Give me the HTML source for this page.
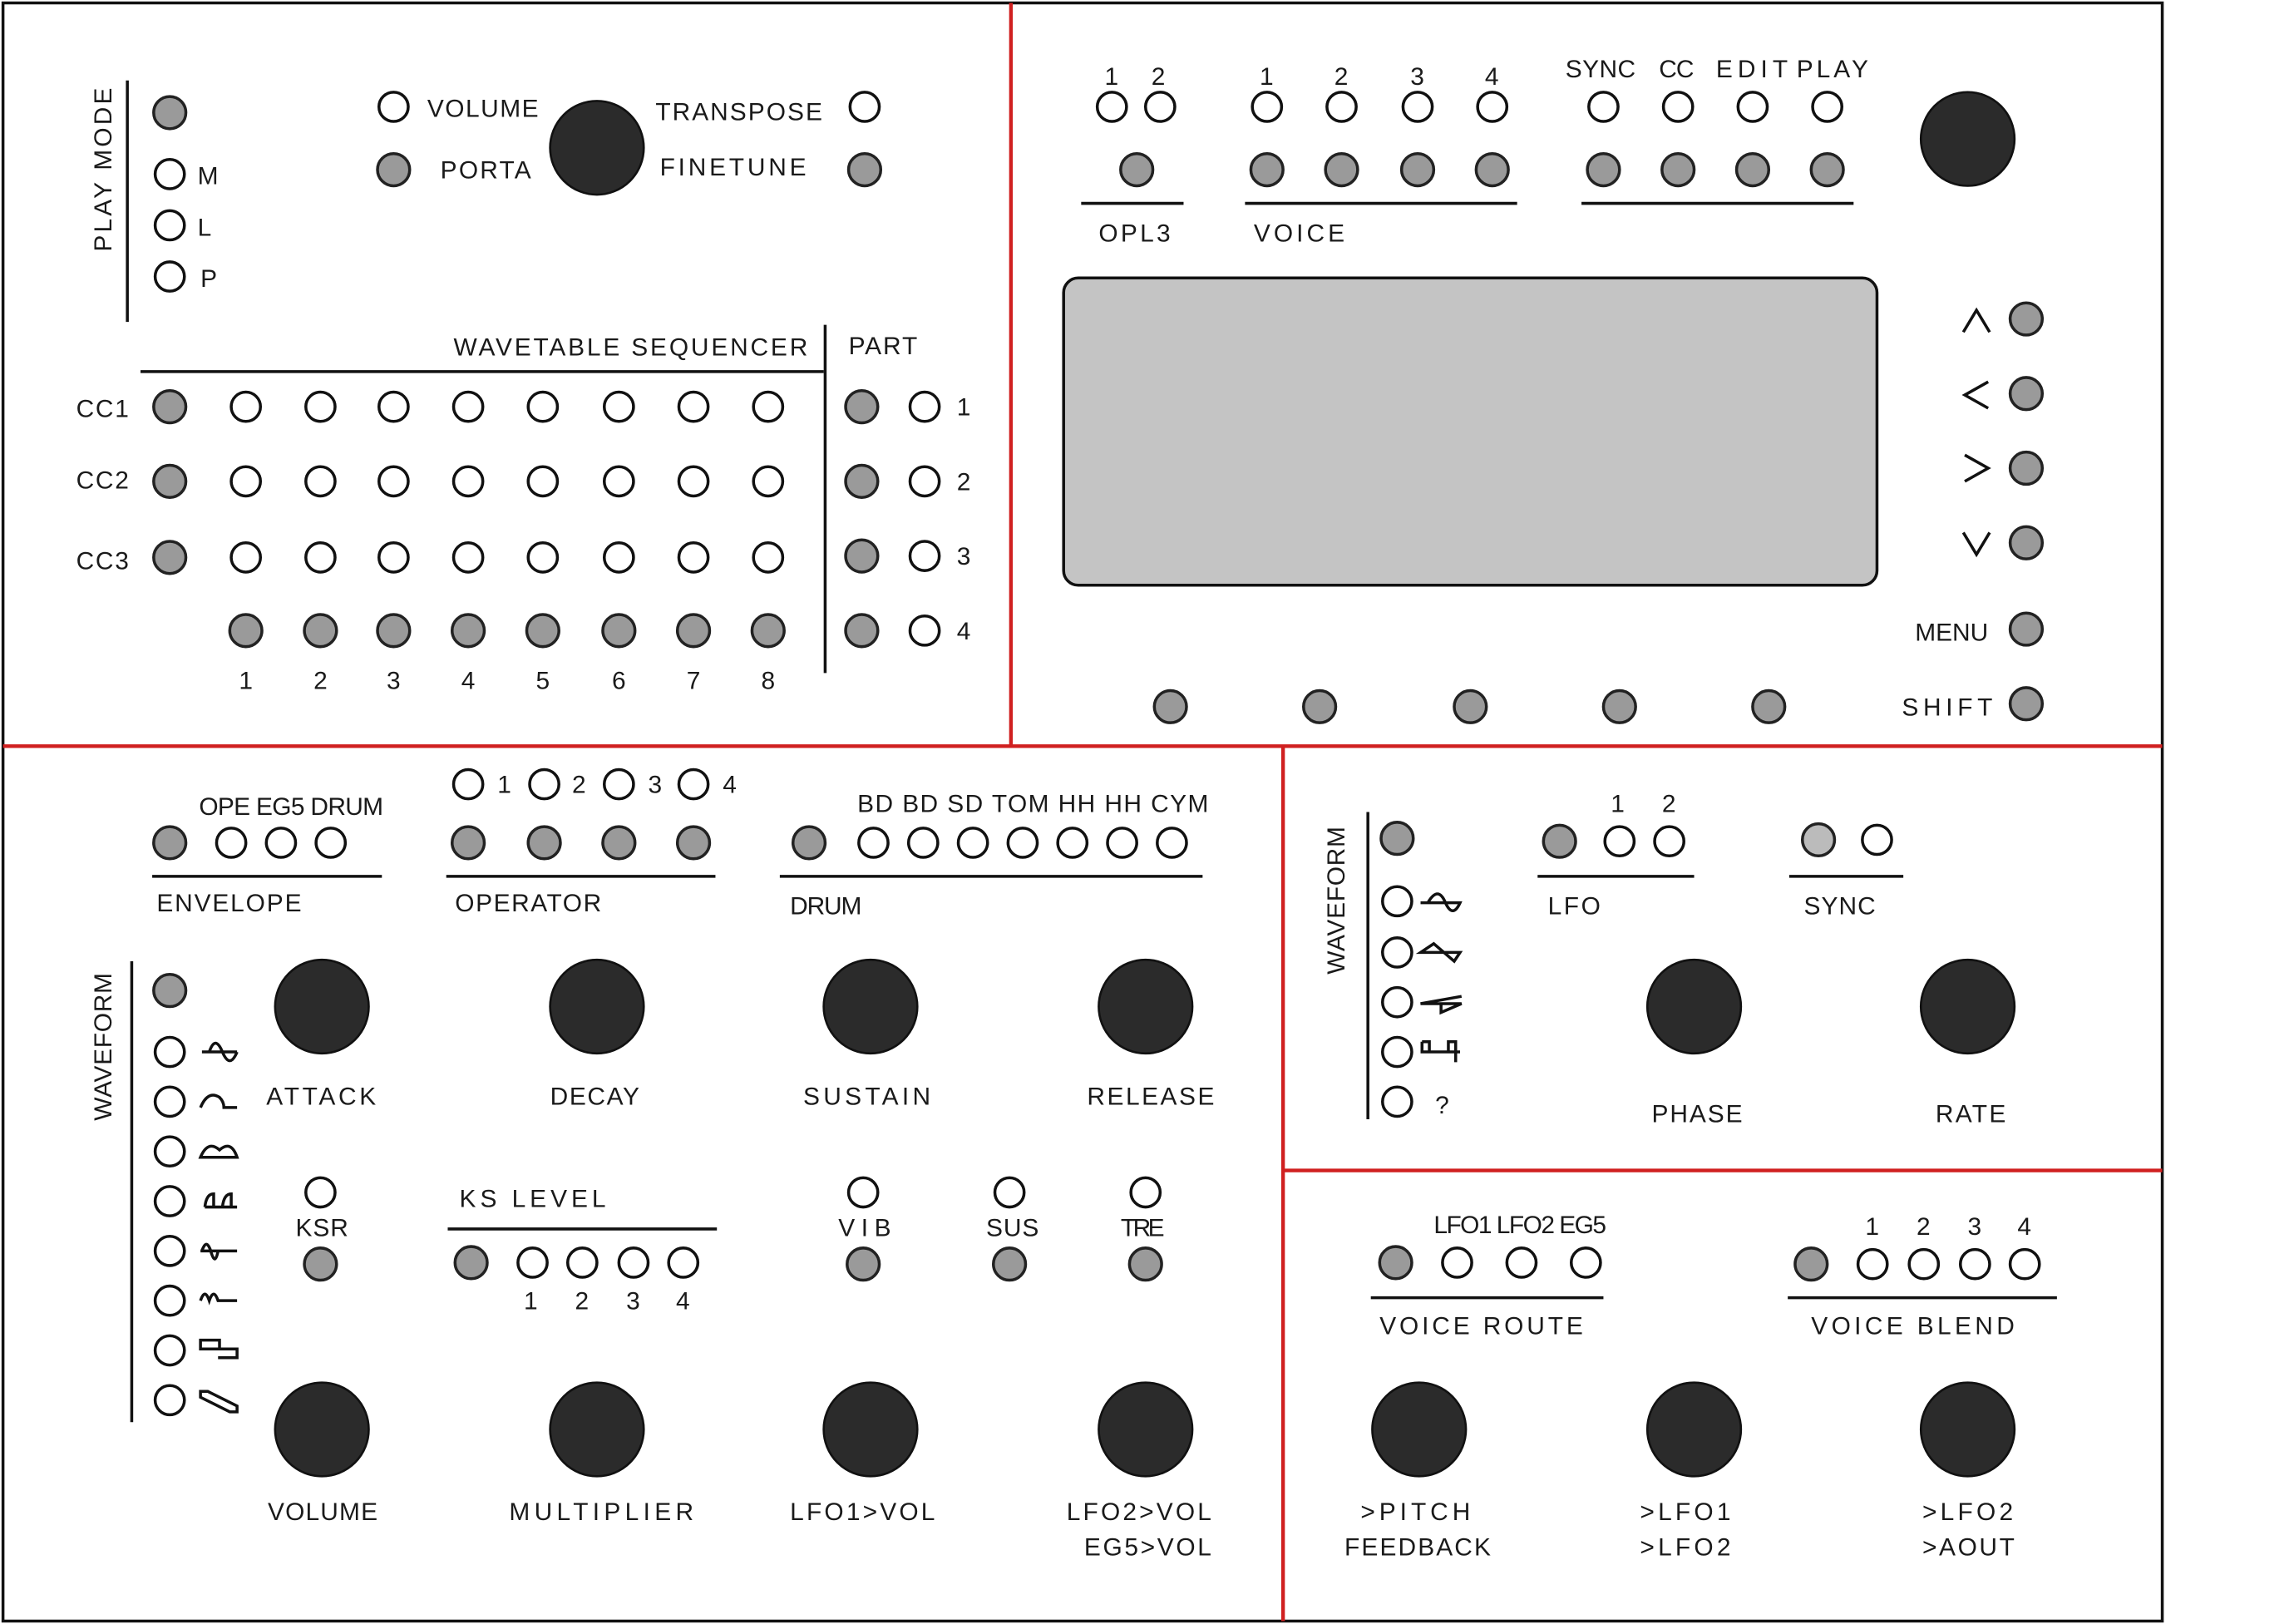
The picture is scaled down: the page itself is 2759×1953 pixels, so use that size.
<!DOCTYPE html>
<html><head><meta charset="utf-8"><style>
html,body{margin:0;padding:0;background:#fff}
svg{display:block}
text{font-family:"Liberation Sans",sans-serif;font-size:17px;fill:#1a1a1a}
.o{fill:#fff;stroke:#111;stroke-width:2}
.f{fill:#9a9a9a;stroke:#222;stroke-width:2}
.k{fill:#2b2b2b;stroke:#111;stroke-width:1.5}
.l{stroke:#111;stroke-width:2;fill:none}
.r{stroke:#d02020;stroke-width:2.5;fill:none}
.i{stroke:#111;stroke-width:2;fill:none}
</style></head><body>
<svg width="2759" height="1953" viewBox="0 0 1568 1110" xmlns="http://www.w3.org/2000/svg">
<rect x="0" y="0" width="1568" height="1110" fill="#fff"/>
<rect x="2" y="2" width="1476" height="1106" class="l"/>
<line x1="691" y1="2" x2="691" y2="510" class="r"/>
<line x1="2" y1="510" x2="1478" y2="510" class="r"/>
<line x1="877" y1="510" x2="877" y2="1108" class="r"/>
<line x1="877" y1="800" x2="1478" y2="800" class="r"/>

<!-- PLAY MODE -->
<text transform="translate(76,172) rotate(-90)" textLength="112" lengthAdjust="spacing">PLAY MODE</text>
<line x1="87" y1="55" x2="87" y2="220" class="l"/>
<circle cx="116" cy="77" r="11" class="f"/>
<circle cx="116" cy="119" r="10" class="o"/><text x="135" y="126">M</text>
<circle cx="116" cy="154" r="10" class="o"/><text x="135" y="161">L</text>
<circle cx="116" cy="189" r="10" class="o"/><text x="137" y="196">P</text>

<circle cx="269" cy="73" r="10" class="o"/><text x="292" y="80" textLength="76" lengthAdjust="spacing">VOLUME</text>
<circle cx="269" cy="116" r="11" class="f"/><text x="301" y="122" textLength="62" lengthAdjust="spacing">PORTA</text>
<circle cx="408" cy="101" r="32" class="k"/>
<text x="448" y="82" textLength="114" lengthAdjust="spacing">TRANSPOSE</text><circle cx="591" cy="73" r="10" class="o"/>
<text x="451" y="120" textLength="100" lengthAdjust="spacing">FINETUNE</text><circle cx="591" cy="116" r="11" class="f"/>

<text x="310" y="243" textLength="242" lengthAdjust="spacing">WAVETABLE SEQUENCER</text>
<line x1="96" y1="254" x2="563" y2="254" class="l"/>
<line x1="564" y1="222" x2="564" y2="460" class="l"/>
<text x="580" y="242" textLength="47" lengthAdjust="spacing">PART</text>

<text x="52" y="285" textLength="36" lengthAdjust="spacing">CC1</text><text x="52" y="334" textLength="36" lengthAdjust="spacing">CC2</text><text x="52" y="389" textLength="36" lengthAdjust="spacing">CC3</text>
<circle cx="116" cy="278" r="11" class="f"/><circle cx="116" cy="329" r="11" class="f"/><circle cx="116" cy="381" r="11" class="f"/>
<g class="o">
<circle cx="168" cy="278" r="10"/><circle cx="219" cy="278" r="10"/><circle cx="269" cy="278" r="10"/><circle cx="320" cy="278" r="10"/><circle cx="371" cy="278" r="10"/><circle cx="423" cy="278" r="10"/><circle cx="474" cy="278" r="10"/><circle cx="525" cy="278" r="10"/>
<circle cx="168" cy="329" r="10"/><circle cx="219" cy="329" r="10"/><circle cx="269" cy="329" r="10"/><circle cx="320" cy="329" r="10"/><circle cx="371" cy="329" r="10"/><circle cx="423" cy="329" r="10"/><circle cx="474" cy="329" r="10"/><circle cx="525" cy="329" r="10"/>
<circle cx="168" cy="381" r="10"/><circle cx="219" cy="381" r="10"/><circle cx="269" cy="381" r="10"/><circle cx="320" cy="381" r="10"/><circle cx="371" cy="381" r="10"/><circle cx="423" cy="381" r="10"/><circle cx="474" cy="381" r="10"/><circle cx="525" cy="381" r="10"/>
<circle cx="632" cy="278" r="10"/><circle cx="632" cy="329" r="10"/><circle cx="632" cy="380" r="10"/><circle cx="632" cy="431" r="10"/>
</g>
<g class="f">
<circle cx="168" cy="431" r="11"/><circle cx="219" cy="431" r="11"/><circle cx="269" cy="431" r="11"/><circle cx="320" cy="431" r="11"/><circle cx="371" cy="431" r="11"/><circle cx="423" cy="431" r="11"/><circle cx="474" cy="431" r="11"/><circle cx="525" cy="431" r="11"/>
<circle cx="589" cy="278" r="11"/><circle cx="589" cy="329" r="11"/><circle cx="589" cy="380" r="11"/><circle cx="589" cy="431" r="11"/>
</g>
<text x="654" y="284">1</text><text x="654" y="335">2</text><text x="654" y="386">3</text><text x="654" y="437">4</text>
<g text-anchor="middle">
<text x="168" y="471">1</text><text x="219" y="471">2</text><text x="269" y="471">3</text><text x="320" y="471">4</text><text x="371" y="471">5</text><text x="423" y="471">6</text><text x="474" y="471">7</text><text x="525" y="471">8</text>
</g>

<!-- TOP RIGHT -->
<text x="755" y="58">1</text><text x="787" y="58">2</text>
<circle cx="760" cy="73" r="10" class="o"/><circle cx="793" cy="73" r="10" class="o"/>
<circle cx="777" cy="116" r="11" class="f"/>
<line x1="739" y1="139" x2="809" y2="139" class="l"/>
<text x="751" y="165" textLength="49" lengthAdjust="spacing">OPL3</text>
<text x="861" y="58">1</text><text x="912" y="58">2</text><text x="964" y="58">3</text><text x="1015" y="58">4</text>
<g class="o"><circle cx="866" cy="73" r="10"/><circle cx="917" cy="73" r="10"/><circle cx="969" cy="73" r="10"/><circle cx="1020" cy="73" r="10"/>
<circle cx="1096" cy="73" r="10"/><circle cx="1147" cy="73" r="10"/><circle cx="1198" cy="73" r="10"/><circle cx="1249" cy="73" r="10"/></g>
<g class="f"><circle cx="866" cy="116" r="11"/><circle cx="917" cy="116" r="11"/><circle cx="969" cy="116" r="11"/><circle cx="1020" cy="116" r="11"/>
<circle cx="1096" cy="116" r="11"/><circle cx="1147" cy="116" r="11"/><circle cx="1198" cy="116" r="11"/><circle cx="1249" cy="116" r="11"/></g>
<line x1="851" y1="139" x2="1037" y2="139" class="l"/>
<line x1="1081" y1="139" x2="1267" y2="139" class="l"/>
<text x="857" y="165" textLength="62" lengthAdjust="spacing">VOICE</text>
<text x="1070" y="53" textLength="48" lengthAdjust="spacing">SYNC</text><text x="1134" y="53" textLength="24" lengthAdjust="spacing">CC</text><text x="1173" y="53" textLength="49" lengthAdjust="spacing">EDIT</text><text x="1228" y="53" textLength="49" lengthAdjust="spacing">PLAY</text>
<circle cx="1345" cy="95" r="32" class="k"/>
<rect x="727" y="190" width="556" height="210" rx="10" fill="#c4c4c4" stroke="#111" stroke-width="2"/>
<path d="M1342,227 L1351,212 L1360,227 M1359,261 L1343,270 L1359,279 M1343,311 L1359,320 L1343,329 M1342,364 L1351,379 L1360,364" class="i"/>
<g class="f"><circle cx="1385" cy="218" r="11"/><circle cx="1385" cy="269" r="11"/><circle cx="1385" cy="320" r="11"/><circle cx="1385" cy="371" r="11"/><circle cx="1385" cy="430" r="11"/><circle cx="1385" cy="481" r="11"/>
<circle cx="800" cy="483" r="11"/><circle cx="902" cy="483" r="11"/><circle cx="1005" cy="483" r="11"/><circle cx="1107" cy="483" r="11"/><circle cx="1209" cy="483" r="11"/></g>
<text x="1309" y="438" textLength="50" lengthAdjust="spacing">MENU</text><text x="1300" y="489" textLength="62" lengthAdjust="spacing">SHIFT</text>

<!-- BOTTOM LEFT -->
<text x="136" y="557" textLength="126" lengthAdjust="spacing">OPE EG5 DRUM</text>
<circle cx="116" cy="576" r="11" class="f"/>
<g class="o"><circle cx="158" cy="576" r="10"/><circle cx="192" cy="576" r="10"/><circle cx="226" cy="576" r="10"/></g>
<line x1="104" y1="599" x2="261" y2="599" class="l"/>
<text x="107" y="623" textLength="99" lengthAdjust="spacing">ENVELOPE</text>
<g class="o"><circle cx="320" cy="536" r="10"/><circle cx="372" cy="536" r="10"/><circle cx="423" cy="536" r="10"/><circle cx="474" cy="536" r="10"/></g>
<text x="340" y="542">1</text><text x="391" y="542">2</text><text x="443" y="542">3</text><text x="494" y="542">4</text>
<g class="f"><circle cx="320" cy="576" r="11"/><circle cx="372" cy="576" r="11"/><circle cx="423" cy="576" r="11"/><circle cx="474" cy="576" r="11"/></g>
<line x1="305" y1="599" x2="489" y2="599" class="l"/>
<text x="311" y="623" textLength="100" lengthAdjust="spacing">OPERATOR</text>
<text x="586" y="555" textLength="240" lengthAdjust="spacing">BD BD SD TOM HH HH CYM</text>
<circle cx="553" cy="576" r="11" class="f"/>
<g class="o"><circle cx="597" cy="576" r="10"/><circle cx="631" cy="576" r="10"/><circle cx="665" cy="576" r="10"/><circle cx="699" cy="576" r="10"/><circle cx="733" cy="576" r="10"/><circle cx="767" cy="576" r="10"/><circle cx="801" cy="576" r="10"/></g>
<line x1="533" y1="599" x2="822" y2="599" class="l"/>
<text x="540" y="625" textLength="49" lengthAdjust="spacing">DRUM</text>

<text transform="translate(76,766) rotate(-90)" textLength="101" lengthAdjust="spacing">WAVEFORM</text>
<line x1="90" y1="657" x2="90" y2="972" class="l"/>
<circle cx="116" cy="677" r="11" class="f"/>
<g class="o"><circle cx="116" cy="719" r="10"/><circle cx="116" cy="753" r="10"/><circle cx="116" cy="787" r="10"/><circle cx="116" cy="821" r="10"/><circle cx="116" cy="855" r="10"/><circle cx="116" cy="889" r="10"/><circle cx="116" cy="923" r="10"/><circle cx="116" cy="957" r="10"/></g>
<g class="i">
<path d="M138,719 H162 M143,719 Q147,707 152,719 Q157,731 162,719"/>
<path d="M137,757 Q142,745 150,750 Q153,753 153,757 h9"/>
<path d="M137,791 Q142,779 150,786 Q158,779 162,791 Z"/>
<path d="M140,825 Q141,816 146,816 v9 M152,825 Q153,816 158,816 v9 M140,825 h22"/>
<path d="M137,855 H162 M138,855 Q141,846 144,855 Q147,866 149,855"/>
<path d="M137,889 Q140,880 143,889 Q146,880 149,889 H162"/>
<path d="M137,916 h13 v6 h-13 z M149,922 h13 v6 h-13"/>
<path d="M137,951 H142 L162,961 V965 H157 L137,955 Z"/>
</g>
<g class="k"><circle cx="220" cy="688" r="32"/><circle cx="408" cy="688" r="32"/><circle cx="595" cy="688" r="32"/><circle cx="783" cy="688" r="32"/>
<circle cx="220" cy="977" r="32"/><circle cx="408" cy="977" r="32"/><circle cx="595" cy="977" r="32"/><circle cx="783" cy="977" r="32"/></g>
<text x="182" y="755" textLength="75" lengthAdjust="spacing">ATTACK</text><text x="376" y="755" textLength="61" lengthAdjust="spacing">DECAY</text><text x="549" y="755" textLength="87" lengthAdjust="spacing">SUSTAIN</text><text x="743" y="755" textLength="87" lengthAdjust="spacing">RELEASE</text>
<circle cx="219" cy="815" r="10" class="o"/><text x="202" y="845" textLength="36" lengthAdjust="spacing">KSR</text><circle cx="219" cy="864" r="11" class="f"/>
<text x="314" y="825" textLength="100" lengthAdjust="spacing">KS LEVEL</text>
<line x1="306" y1="840" x2="490" y2="840" class="l"/>
<circle cx="322" cy="863" r="11" class="f"/>
<g class="o"><circle cx="364" cy="863" r="10"/><circle cx="398" cy="863" r="10"/><circle cx="433" cy="863" r="10"/><circle cx="467" cy="863" r="10"/>
<circle cx="590" cy="815" r="10"/><circle cx="690" cy="815" r="10"/><circle cx="783" cy="815" r="10"/></g>
<text x="358" y="895">1</text><text x="393" y="895">2</text><text x="428" y="895">3</text><text x="462" y="895">4</text>
<text x="573" y="845" textLength="36" lengthAdjust="spacing">VIB</text><text x="674" y="845" textLength="36" lengthAdjust="spacing">SUS</text><text x="766" y="845" textLength="30" lengthAdjust="spacing">TRE</text>
<g class="f"><circle cx="590" cy="864" r="11"/><circle cx="690" cy="864" r="11"/><circle cx="783" cy="864" r="11"/></g>
<text x="183" y="1039" textLength="75" lengthAdjust="spacing">VOLUME</text><text x="348" y="1039" textLength="126" lengthAdjust="spacing">MULTIPLIER</text><text x="540" y="1039" textLength="99" lengthAdjust="spacing">LFO1&gt;VOL</text>
<text x="729" y="1039" textLength="99" lengthAdjust="spacing">LFO2&gt;VOL</text><text x="741" y="1063" textLength="87" lengthAdjust="spacing">EG5&gt;VOL</text>

<!-- RIGHT MIDDLE -->
<text transform="translate(919,666) rotate(-90)" textLength="101" lengthAdjust="spacing">WAVEFORM</text>
<line x1="935" y1="555" x2="935" y2="765" class="l"/>
<circle cx="955" cy="573" r="11" class="f"/>
<g class="o"><circle cx="955" cy="616" r="10"/><circle cx="955" cy="651" r="10"/><circle cx="955" cy="685" r="10"/><circle cx="955" cy="719" r="10"/><circle cx="955" cy="753" r="10"/></g>
<g class="i">
<path d="M971,617 h5 Q983,605 988,617 Q993,628 998,617 Z"/>
<path d="M971,651 L980,645 L987,651 L994,657 L998,651 Z"/>
<path d="M999,681 L971,686 H999 L985,692 V686"/>
<path d="M972,712 V719 H990 V712 H995 V726 M972,712 H977 V719 M990,719 H998"/>
</g>
<text x="981" y="761">?</text>
<text x="1101" y="555">1</text><text x="1136" y="555">2</text>
<circle cx="1066" cy="575" r="11" class="f"/>
<g class="o"><circle cx="1107" cy="575" r="10"/><circle cx="1141" cy="575" r="10"/><circle cx="1283" cy="574" r="10"/></g>
<circle cx="1243" cy="574" r="11" fill="#bbb" stroke="#222" stroke-width="2"/>
<line x1="1051" y1="599" x2="1158" y2="599" class="l"/>
<line x1="1223" y1="599" x2="1301" y2="599" class="l"/>
<text x="1058" y="625" textLength="36" lengthAdjust="spacing">LFO</text><text x="1233" y="625" textLength="49" lengthAdjust="spacing">SYNC</text>
<g class="k"><circle cx="1158" cy="688" r="32"/><circle cx="1345" cy="688" r="32"/>
<circle cx="970" cy="977" r="32"/><circle cx="1158" cy="977" r="32"/><circle cx="1345" cy="977" r="32"/></g>
<text x="1129" y="767" textLength="62" lengthAdjust="spacing">PHASE</text><text x="1323" y="767" textLength="48" lengthAdjust="spacing">RATE</text>

<!-- BOTTOM RIGHT -->
<text x="980" y="843" textLength="118" lengthAdjust="spacing">LFO1 LFO2 EG5</text>
<circle cx="954" cy="863" r="11" class="f"/>
<g class="o"><circle cx="996" cy="863" r="10"/><circle cx="1040" cy="863" r="10"/><circle cx="1084" cy="863" r="10"/>
<circle cx="1280" cy="864" r="10"/><circle cx="1315" cy="864" r="10"/><circle cx="1350" cy="864" r="10"/><circle cx="1384" cy="864" r="10"/></g>
<circle cx="1238" cy="864" r="11" class="f"/>
<line x1="937" y1="887" x2="1096" y2="887" class="l"/>
<line x1="1222" y1="887" x2="1406" y2="887" class="l"/>
<text x="1275" y="844">1</text><text x="1310" y="844">2</text><text x="1345" y="844">3</text><text x="1379" y="844">4</text>
<text x="943" y="912" textLength="139" lengthAdjust="spacing">VOICE ROUTE</text><text x="1238" y="912" textLength="139" lengthAdjust="spacing">VOICE BLEND</text>
<text x="930" y="1039" textLength="75" lengthAdjust="spacing">&gt;PITCH</text><text x="919" y="1063" textLength="100" lengthAdjust="spacing">FEEDBACK</text>
<text x="1121" y="1039" textLength="62" lengthAdjust="spacing">&gt;LFO1</text><text x="1121" y="1063" textLength="62" lengthAdjust="spacing">&gt;LFO2</text>
<text x="1314" y="1039" textLength="62" lengthAdjust="spacing">&gt;LFO2</text><text x="1314" y="1063" textLength="63" lengthAdjust="spacing">&gt;AOUT</text>
</svg>
</body></html>
